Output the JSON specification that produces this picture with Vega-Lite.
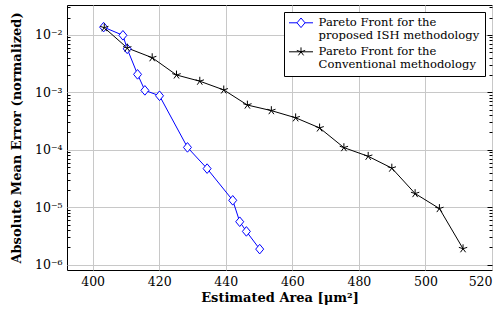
{
  "$schema": "https://vega.github.io/schema/vega-lite/v6.json",
  "width": 425,
  "height": 265,
  "autosize": {"type": "none"},
  "padding": {"left": 67, "top": 5, "right": 10, "bottom": 52},
  "config": {
    "font": "DejaVu Serif",
    "view": {"stroke": "#000000", "strokeWidth": 1},
    "axis": {"labelFont": "DejaVu Serif", "titleFont": "DejaVu Serif", "labelColor": "#000", "titleColor": "#000", "domain": false, "gridColor": "#c8c8c8", "gridWidth": 1, "gridOpacity": 1, "tickColor": "#000"},
    "legend": {
      "title": null,
      "orient": "top-right",
      "offset": 7,
      "padding": 5,
      "strokeColor": "#000",
      "fillColor": "#fff",
      "labelFont": "DejaVu Serif",
      "labelFontSize": 11.6,
      "labelColor": "#000",
      "labelLimit": 300,
      "labelOffset": 18,
      "symbolSize": 64,
      "rowPadding": 3
    }
  },
  "data": {
    "values": [
      {"x": 403.3, "y": 0.0136, "series": "ISH"},
      {"x": 409.1, "y": 0.0098, "series": "ISH"},
      {"x": 410.4, "y": 0.0057, "series": "ISH"},
      {"x": 413.5, "y": 0.00205, "series": "ISH"},
      {"x": 415.7, "y": 0.00108, "series": "ISH"},
      {"x": 420.1, "y": 0.00087, "series": "ISH"},
      {"x": 428.5, "y": 0.00011, "series": "ISH"},
      {"x": 434.4, "y": 0.000047, "series": "ISH"},
      {"x": 442.1, "y": 0.0000132, "series": "ISH"},
      {"x": 444.2, "y": 0.0000056, "series": "ISH"},
      {"x": 446.2, "y": 0.0000038, "series": "ISH"},
      {"x": 450.2, "y": 0.00000187, "series": "ISH"},
      {"x": 403.5, "y": 0.0133, "series": "Conv"},
      {"x": 410.4, "y": 0.0059, "series": "Conv"},
      {"x": 417.9, "y": 0.0040, "series": "Conv"},
      {"x": 425.2, "y": 0.0020, "series": "Conv"},
      {"x": 432.2, "y": 0.00156, "series": "Conv"},
      {"x": 439.4, "y": 0.0011, "series": "Conv"},
      {"x": 446.5, "y": 0.00060, "series": "Conv"},
      {"x": 453.7, "y": 0.00048, "series": "Conv"},
      {"x": 461.0, "y": 0.00036, "series": "Conv"},
      {"x": 468.2, "y": 0.00024, "series": "Conv"},
      {"x": 475.5, "y": 0.000109, "series": "Conv"},
      {"x": 482.8, "y": 0.000077, "series": "Conv"},
      {"x": 489.9, "y": 0.000048, "series": "Conv"},
      {"x": 496.9, "y": 0.0000173, "series": "Conv"},
      {"x": 504.2, "y": 0.0000095, "series": "Conv"},
      {"x": 511.3, "y": 0.0000019, "series": "Conv"}
    ]
  },
  "encoding": {
    "x": {
      "field": "x", "type": "quantitative",
      "scale": {"domain": [392.3, 520], "nice": false, "zero": false},
      "axis": {"values": [400, 420, 440, 460, 480, 500, 520], "title": "Estimated Area [μm²]", "titleFontWeight": "bold", "titleFontSize": 13, "labelFontSize": 12.5, "tickSize": 0, "labelPadding": 5, "titlePadding": 4, "grid": true}
    },
    "y": {
      "field": "y", "type": "quantitative",
      "scale": {"type": "log", "domain": [8.1e-7, 0.033], "nice": false}
    }
  },
  "layer": [
    {
      "mark": {"type": "line", "strokeWidth": 1},
      "encoding": {
        "color": {
          "field": "series", "type": "nominal",
          "scale": {"domain": ["ISH", "Conv"], "range": ["#0000ff", "#000000"]},
          "legend": {
            "labelExpr": "datum.value == 'ISH' ? ['Pareto Front for the', 'proposed ISH methodology'] : ['Pareto Front for the', 'Conventional methodology']",
            "encode": {
              "symbols": {
                "update": {
                  "shape": {"signal": "datum.value == 'ISH' ? 'M-3,0L-1,0M1,0L3,0M0,-1.2L1,0L0,1.2L-1,0Z' : 'M-3,0L3,0M0,0L0,-1.1M0,0L1.046,-0.34M0,0L0.647,0.89M0,0L-0.647,0.89M0,0L-1.046,-0.34'"},
                  "xc": {"value": 12},
                  "stroke": {"signal": "datum.value == 'ISH' ? '#0000ff' : '#000000'"},
                  "fill": {"value": "transparent"},
                  "strokeWidth": {"value": 1},
                  "opacity": {"value": 1}
                }
              }
            }
          }
        },
        "y": {
          "field": "y", "type": "quantitative",
          "axis": {
            "orient": "left",
            "values": [0.000001, 0.000002, 0.000003, 0.000004, 0.000005, 0.000006, 0.000007, 0.000008, 0.000009, 0.00001, 0.00002, 0.00003, 0.00004, 0.00005, 0.00006, 0.00007, 0.00008, 0.00009, 0.0001, 0.0002, 0.0003, 0.0004, 0.0005, 0.0006, 0.0007, 0.0008, 0.0009, 0.001, 0.002, 0.003, 0.004, 0.005, 0.006, 0.007, 0.008, 0.009, 0.01, 0.02, 0.03],
            "labelExpr": "abs(log(datum.value)/LN10 - round(log(datum.value)/LN10)) < 0.001 ? '10' + ({'-2':'⁻²','-3':'⁻³','-4':'⁻⁴','-5':'⁻⁵','-6':'⁻⁶'})[''+round(log(datum.value)/LN10)] : ''",
            "gridOpacity": {"condition": {"test": "abs(log(datum.value)/LN10 - round(log(datum.value)/LN10)) < 0.001", "value": 1}, "value": 0},
            "tickSize": {"condition": {"test": "abs(log(datum.value)/LN10 - round(log(datum.value)/LN10)) < 0.001", "value": 0}, "value": -3},
            "labelFontSize": 12.5,
            "labelPadding": 5,
            "title": "Absolute Mean Error (normalized)",
            "titleFontWeight": "bold",
            "titleFontSize": 13,
            "titlePadding": 11,
            "grid": true
          }
        }
      }
    },
    {
      "transform": [{"filter": "datum.series == 'ISH'"}],
      "mark": {"type": "point", "shape": "M0,-1.2L1,0L0,1.2L-1,0Z", "filled": false, "fill": "white", "fillOpacity": 1, "stroke": "#0000ff", "strokeWidth": 1, "opacity": 1, "size": 64},
      "encoding": {
        "y": {
          "field": "y", "type": "quantitative",
          "axis": {
            "orient": "right",
            "values": [0.000001, 0.000002, 0.000003, 0.000004, 0.000005, 0.000006, 0.000007, 0.000008, 0.000009, 0.00001, 0.00002, 0.00003, 0.00004, 0.00005, 0.00006, 0.00007, 0.00008, 0.00009, 0.0001, 0.0002, 0.0003, 0.0004, 0.0005, 0.0006, 0.0007, 0.0008, 0.0009, 0.001, 0.002, 0.003, 0.004, 0.005, 0.006, 0.007, 0.008, 0.009, 0.01, 0.02, 0.03],
            "labels": false,
            "grid": false,
            "title": null,
            "tickSize": {"condition": {"test": "abs(log(datum.value)/LN10 - round(log(datum.value)/LN10)) < 0.001", "value": -5}, "value": -3}
          }
        }
      }
    },
    {
      "transform": [{"filter": "datum.series == 'Conv'"}],
      "mark": {"type": "point", "shape": "M0,0L0,-1.1M0,0L1.046,-0.34M0,0L0.647,0.89M0,0L-0.647,0.89M0,0L-1.046,-0.34", "filled": false, "stroke": "#000000", "strokeWidth": 1, "opacity": 1, "size": 64},
      "encoding": {
        "y": {"field": "y", "type": "quantitative", "axis": null}
      }
    }
  ],
  "resolve": {"axis": {"y": "independent"}}
}
